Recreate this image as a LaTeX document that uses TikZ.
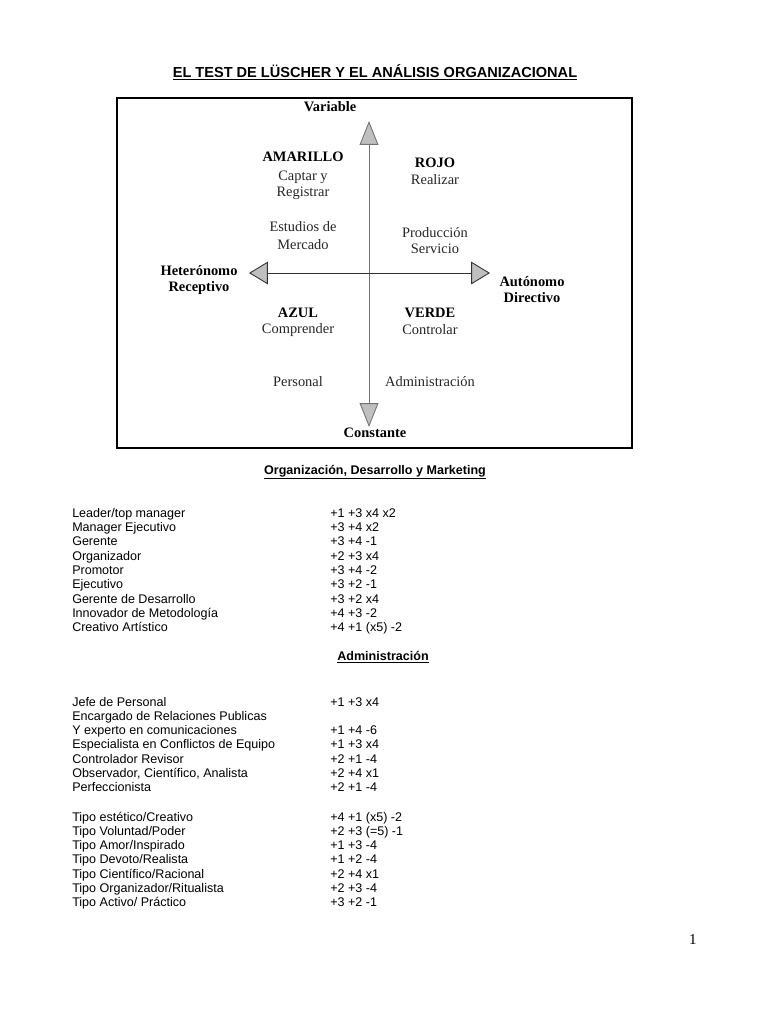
\documentclass[tikz,border=0pt]{standalone}
\usepackage{fontspec}
\setmainfont{Liberation Serif}
\newfontfamily\arial{Liberation Sans}
\usetikzlibrary{arrows.meta}

\tikzset{
	cuadro/.style={line width=1.5pt},
	eje/.style={line width=0.8pt, {Triangle[length=19pt, width=15pt, fill=black!25, line width=0.7pt]}-{Triangle[length=19pt, width=15pt, fill=black!25, line width=0.7pt]}},
	ejeh/.style={line width=0.8pt, {Triangle[length=15pt, width=18pt, fill=black!25, line width=0.7pt]}-{Triangle[length=15pt, width=18pt, fill=black!25, line width=0.7pt]}},
	polo/.style={font=\fontsize{11.5}{12.8}\selectfont\bfseries, align=center, inner sep=0pt},
	tono/.style={font=\fontsize{11.5}{12.8}\selectfont\bfseries, inner sep=0pt},
	verbo/.style={font=\fontsize{11.5}{12.8}\selectfont, align=center, text=black!85, inner sep=0pt},
	titulo/.style={font=\arial\fontsize{11.6}{14}\selectfont\bfseries},
	seccion/.style={font=\arial\fontsize{10}{12}\selectfont\bfseries},
	fila/.style={font=\arial\fontsize{10}{12}\selectfont, anchor=west, inner sep=0pt, text height=7.2pt, text depth=2pt}
}

\begin{document}
\begin{tikzpicture}[x=0.797pt, y=-0.797pt]
	
	\useasboundingbox (0,0) rectangle (768,1024);
	
	\node[titulo] (titulo) at (375,72) {\underline{EL TEST DE LÜSCHER Y EL ANÁLISIS ORGANIZACIONAL}};
	
	\draw[cuadro] (117,98) rectangle (632,448);
	
	\node[polo] (variable) at (330,107) {Variable};
	\node[polo] (constante) at (375,433) {Constante};
	\node[polo] (hetero) at (199,280) {Heterónomo\\Receptivo};
	\node[polo] (autonomo) at (532,290) {Autónomo\\Directivo};
	
	\coordinate (N) at (369,121);
	\coordinate (S) at (369,427);
	\coordinate (W) at (249,273);
	\coordinate (E) at (490,273);
	
	\draw[eje, draw=black!55] (N) -- (S);
	\draw[ejeh, draw=black!80] (W) -- (E);
	
	\node[tono] (amarillo) at (303,157) {AMARILLO};
	\node[verbo] (captar) at (303,185) {Captar y\\Registrar};
	\node[tono] (rojo) at (435,163) {ROJO};
	\node[verbo] (realizar) at (435,180) {Realizar};
	\node[verbo] (estudios) at (303,236) {Estudios de\\[1.5pt]Mercado};
	\node[verbo] (produccion) at (435,241) {Producción\\Servicio};
	\node[tono] (azul) at (298,313) {AZUL};
	\node[verbo] (comprender) at (298,330) {Comprender};
	\node[tono] (verde) at (430,313) {VERDE};
	\node[verbo] (controlar) at (430,330) {Controlar};
	\node[verbo] (personal) at (298,382) {Personal};
	\node[verbo] (admin) at (430,382) {Administración};
	
	\node[seccion] (marketing) at (375,472) {\underline{Organización, Desarrollo y Marketing}};
	
	\node[fila] (a1) at (72,514) {Leader/top manager};
	\node[fila] (b1) at (330,514) {+1 +3 x4 x2};
	\node[fila] (a2) at (72,528.3) {Manager Ejecutivo};
	\node[fila] (b2) at (330,528.3) {+3 +4 x2};
	\node[fila] (a3) at (72,542.6) {Gerente};
	\node[fila] (b3) at (330,542.6) {+3 +4 -1};
	\node[fila] (a4) at (72,556.9) {Organizador};
	\node[fila] (b4) at (330,556.9) {+2 +3 x4};
	\node[fila] (a5) at (72,571.2) {Promotor};
	\node[fila] (b5) at (330,571.2) {+3 +4 -2};
	\node[fila] (a6) at (72,585.5) {Ejecutivo};
	\node[fila] (b6) at (330,585.5) {+3 +2 -1};
	\node[fila] (a7) at (72,599.8) {Gerente de Desarrollo};
	\node[fila] (b7) at (330,599.8) {+3 +2 x4};
	\node[fila] (a8) at (72,614.1) {Innovador de Metodología};
	\node[fila] (b8) at (330,614.1) {+4 +3 -2};
	\node[fila] (a9) at (72,628.4) {Creativo Artístico};
	\node[fila] (b9) at (330,628.4) {+4 +1 (x5) -2};
	
	\node[seccion] (administracion) at (383,657) {\underline{Administración}};
	
	\node[fila] (c1) at (72,703) {Jefe de Personal};
	\node[fila] (d1) at (330,703) {+1 +3 x4};
	\node[fila] (c2) at (72,717.2) {Encargado de Relaciones Publicas};
	\node[fila] (c3) at (72,731.4) {Y experto en comunicaciones};
	\node[fila] (d3) at (330,731.4) {+1 +4 -6};
	\node[fila] (c4) at (72,745.6) {Especialista en Conflictos de Equipo};
	\node[fila] (d4) at (330,745.6) {+1 +3 x4};
	\node[fila] (c5) at (72,759.8) {Controlador Revisor};
	\node[fila] (d5) at (330,759.8) {+2 +1 -4};
	\node[fila] (c6) at (72,774) {Observador, Científico, Analista};
	\node[fila] (d6) at (330,774) {+2 +4 x1};
	\node[fila] (c7) at (72,788.2) {Perfeccionista};
	\node[fila] (d7) at (330,788.2) {+2 +1 -4};
	
	\node[fila] (e1) at (72,818) {Tipo estético/Creativo};
	\node[fila] (f1) at (330,818) {+4 +1 (x5) -2};
	\node[fila] (e2) at (72,832.2) {Tipo Voluntad/Poder};
	\node[fila] (f2) at (330,832.2) {+2 +3 (=5) -1};
	\node[fila] (e3) at (72,846.4) {Tipo Amor/Inspirado};
	\node[fila] (f3) at (330,846.4) {+1 +3 -4};
	\node[fila] (e4) at (72,860.6) {Tipo Devoto/Realista};
	\node[fila] (f4) at (330,860.6) {+1 +2 -4};
	\node[fila] (e5) at (72,874.8) {Tipo Científico/Racional};
	\node[fila] (f5) at (330,874.8) {+2 +4 x1};
	\node[fila] (e6) at (72,889) {Tipo Organizador/Ritualista};
	\node[fila] (f6) at (330,889) {+2 +3 -4};
	\node[fila] (e7) at (72,903.2) {Tipo Activo/ Práctico};
	\node[fila] (f7) at (330,903.2) {+3 +2 -1};
	
	\node[font=\fontsize{12}{14}\selectfont] (pagina) at (693,940) {1};
	
\end{tikzpicture}
\end{document}
